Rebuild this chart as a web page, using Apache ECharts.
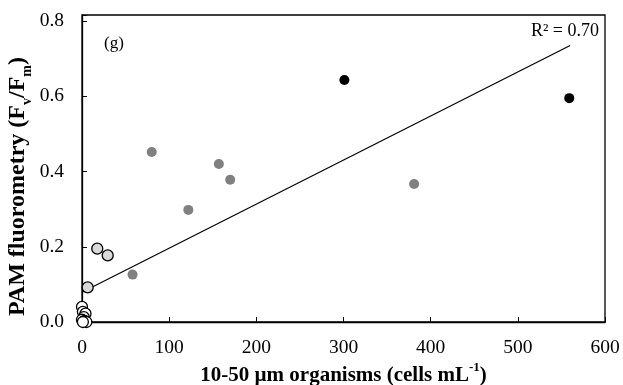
<!DOCTYPE html>
<html>
<head>
<meta charset="utf-8">
<script src="https://cdn.jsdelivr.net/npm/echarts@6/dist/echarts.min.js"></script>
<style>html,body{margin:0;padding:0;background:#fff}#c{width:623px;height:385px}</style>
</head>
<body>
<div id="c"></div>
<script>
// Data
var blackX = [301, 559];
var blackY = [0.643, 0.595];
var grayX = [80, 157, 170, 122, 58, 381];
var grayY = [0.452, 0.420, 0.378, 0.298, 0.126, 0.367];
var lightX = [17.5, 29.5, 6.5];
var lightY = [0.195, 0.177, 0.092];
var openX = [0, 1, 4, 2, 0, 3, 5, 1];
var openY = [0.040, 0.027, 0.022, 0.013, 0.006, 0.003, 0.000, 0.000];
var trendX = [0, 560];
var trendY = [0.079, 0.735];
var xTicks = [0, 100, 200, 300, 400, 500, 600];
var yTicks = [0.0, 0.2, 0.4, 0.6, 0.8];

function pairs(xs, ys){ return xs.map(function(x,i){return [x, ys[i]];}); }

var serif = '"Liberation Serif", "Times New Roman", serif';
var chart = echarts.init(document.getElementById('c'));
chart.setOption({
  animation: false,
  grid: {left: 82, right: 18, top: 15, bottom: 63, show: true, borderColor: '#000', borderWidth: 1.3,
         containLabel: false, outerBoundsMode: 'none'},
  xAxis: {
    type: 'value', min: xTicks[0], max: xTicks[xTicks.length-1], interval: 100,
    axisLine: {onZero: false, lineStyle: {color: '#000', width: 1.3}},
    axisTick: {inside: true, length: 5, lineStyle: {color: '#000', width: 1}},
    splitLine: {show: false},
    axisLabel: {color: '#000', fontFamily: serif, fontSize: 19.5, margin: 16},
    name: '{b|10-50 \u00b5m organisms (cells mL}{s|-1}{b|)}',
    nameLocation: 'middle', nameGap: 35, nameMoveOverlap: false,
    nameTextStyle: {
      verticalAlign: 'top',
      rich: {
        b: {fontFamily: serif, fontSize: 21, fontWeight: 'bold', color: '#000', height: 22, verticalAlign: 'bottom'},
        s: {fontFamily: serif, fontSize: 13, fontWeight: 'bold', color: '#000', height: 22, verticalAlign: 'top', padding:[0,0,8,0]}
      }
    }
  },
  yAxis: {
    type: 'value', min: 0, max: 0.816, interval: 0.2,
    axisLine: {onZero: false, lineStyle: {color: '#000', width: 1.3}},
    axisTick: {inside: true, length: 5, lineStyle: {color: '#000', width: 1}},
    splitLine: {show: false},
    axisLabel: {color: '#000', fontFamily: serif, fontSize: 19.5, margin: 18,
      formatter: function(v){
        for (var i=0;i<yTicks.length;i++){ if (Math.abs(v-yTicks[i])<1e-6) return yTicks[i].toFixed(1); }
        return '';
      }},
    name: '{b|PAM fluorometry (F}{s|v}{b|/F}{s|m}{b|)}',
    nameLocation: 'middle', nameGap: 42, nameMoveOverlap: false,
    nameTextStyle: {
      padding: [0, 36, 0, 0],
      rich: {
        b: {fontFamily: serif, fontSize: 24, fontWeight: 'bold', color: '#000', height: 26, verticalAlign: 'top'},
        s: {fontFamily: serif, fontSize: 14, fontWeight: 'bold', color: '#000', height: 26, verticalAlign: 'bottom', padding:[9,0,0,0]}
      }
    }
  },
  series: [
    {type: 'line', data: pairs(trendX, trendY), symbol: 'none', lineStyle: {color: '#000', width: 1.2}, z: 1},
    {type: 'scatter', data: pairs(openX, openY), symbolSize: 11, itemStyle: {color: '#fff', borderColor: '#000', borderWidth: 1.3, opacity: 1}, z: 3},
    {type: 'scatter', data: pairs(lightX, lightY), symbolSize: 11, itemStyle: {color: '#d9d9d9', borderColor: '#000', borderWidth: 1.3, opacity: 1}, z: 3},
    {type: 'scatter', data: pairs(grayX, grayY), symbolSize: 10, itemStyle: {color: '#808080', opacity: 1}, z: 3},
    {type: 'scatter', data: pairs(blackX, blackY), symbolSize: 10, itemStyle: {color: '#000', opacity: 1}, z: 3}
  ],
  graphic: [
    {type: 'text', left: 104, top: 35, style: {text: '(g)', fontSize: 17, fontFamily: serif, fill: '#000'}},
    {type: 'text', right: 24, top: 22, style: {text: 'R\u00b2 = 0.70', fontSize: 18, fontFamily: serif, fill: '#000'}}
  ]
});
</script>
</body>
</html>
